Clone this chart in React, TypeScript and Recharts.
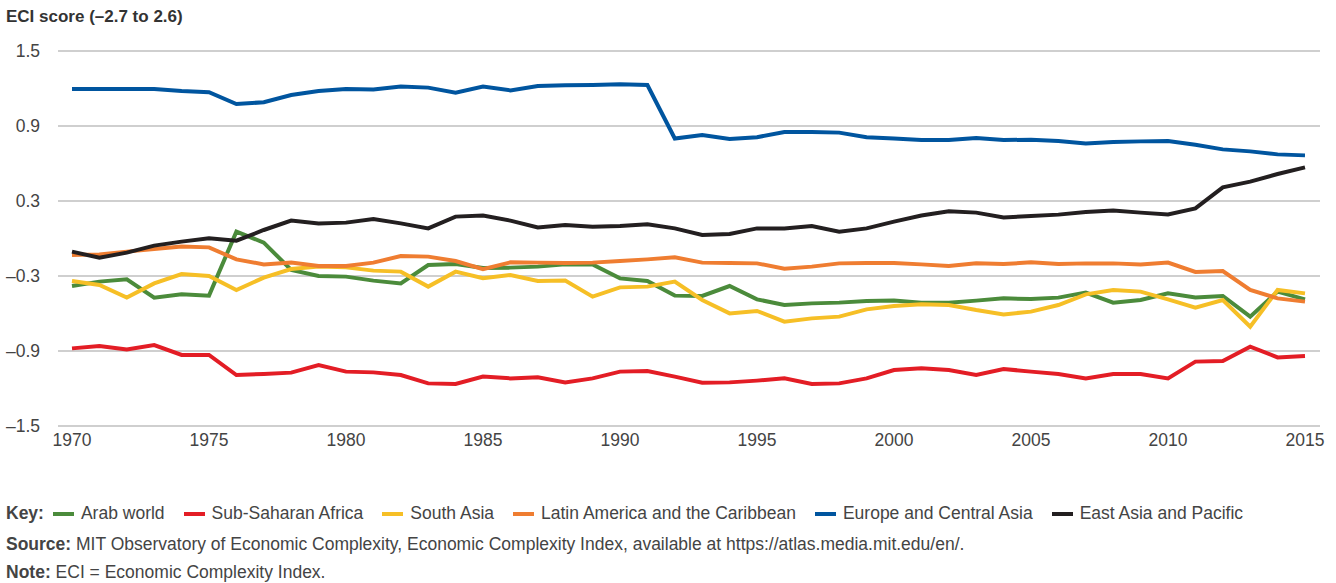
import { LineChart, Line, XAxis, YAxis, CartesianGrid } from "recharts";

const years = [
  1970, 1971, 1972, 1973, 1974, 1975, 1976, 1977, 1978, 1979,
  1980, 1981, 1982, 1983, 1984, 1985, 1986, 1987, 1988, 1989,
  1990, 1991, 1992, 1993, 1994, 1995, 1996, 1997, 1998, 1999,
  2000, 2001, 2002, 2003, 2004, 2005, 2006, 2007, 2008, 2009,
  2010, 2011, 2012, 2013, 2014, 2015,
];

const arabWorld = [
  -0.38, -0.345, -0.327, -0.473, -0.447, -0.457, 0.055, -0.033, -0.252, -0.3,
  -0.305, -0.337, -0.359, -0.212, -0.205, -0.235, -0.233, -0.225, -0.207, -0.207,
  -0.319, -0.34, -0.457, -0.46, -0.38, -0.487, -0.532, -0.519, -0.513, -0.5,
  -0.497, -0.513, -0.513, -0.497, -0.479, -0.484, -0.473, -0.433, -0.513, -0.492,
  -0.439, -0.471, -0.46, -0.625, -0.425, -0.487,
];

const subSaharanAfrica = [
  -0.879, -0.86, -0.887, -0.852, -0.932, -0.932, -1.092, -1.084, -1.073, -1.012,
  -1.065, -1.071, -1.092, -1.159, -1.164, -1.105, -1.119, -1.111, -1.151, -1.119,
  -1.065, -1.06, -1.105, -1.153, -1.151, -1.137, -1.119, -1.164, -1.159, -1.119,
  -1.052, -1.039, -1.052, -1.092, -1.044, -1.065, -1.084, -1.119, -1.084, -1.084,
  -1.119, -0.985, -0.98, -0.865, -0.951, -0.94,
];

const southAsia = [
  -0.34, -0.372, -0.473, -0.359, -0.284, -0.3, -0.412, -0.313, -0.244, -0.225,
  -0.231, -0.257, -0.265, -0.385, -0.265, -0.318, -0.292, -0.34, -0.337, -0.465,
  -0.391, -0.385, -0.345, -0.492, -0.599, -0.58, -0.665, -0.639, -0.625, -0.567,
  -0.54, -0.527, -0.532, -0.572, -0.607, -0.585, -0.532, -0.447, -0.412, -0.425,
  -0.487, -0.553, -0.492, -0.705, -0.412, -0.439,
];

const latinAmerica = [
  -0.132, -0.127, -0.105, -0.084, -0.065, -0.071, -0.167, -0.207, -0.193, -0.22,
  -0.22, -0.193, -0.14, -0.145, -0.18, -0.246, -0.191, -0.193, -0.196, -0.193,
  -0.18, -0.167, -0.151, -0.193, -0.196, -0.199, -0.241, -0.225, -0.199, -0.196,
  -0.196, -0.207, -0.22, -0.199, -0.204, -0.191, -0.204, -0.199, -0.199, -0.207,
  -0.193, -0.268, -0.26, -0.412, -0.479, -0.505,
];

const europeCentralAsia = [
  1.196, 1.196, 1.196, 1.196, 1.18, 1.17, 1.076, 1.09, 1.148, 1.18,
  1.196, 1.193, 1.215, 1.207, 1.167, 1.215, 1.185, 1.22, 1.226, 1.228,
  1.233, 1.228, 0.8, 0.828, 0.796, 0.81, 0.852, 0.852, 0.847, 0.81,
  0.8, 0.788, 0.788, 0.804, 0.788, 0.79, 0.78, 0.761, 0.772, 0.777,
  0.78, 0.75, 0.713, 0.697, 0.673, 0.665,
];

const eastAsiaPacific = [
  -0.105, -0.153, -0.113, -0.057, -0.025, 0.001, -0.017, 0.068, 0.143, 0.121,
  0.127, 0.156, 0.121, 0.081, 0.175, 0.183, 0.143, 0.089, 0.108, 0.095,
  0.1, 0.113, 0.081, 0.028, 0.036, 0.081, 0.081, 0.1, 0.055, 0.081,
  0.135, 0.184, 0.217, 0.207, 0.169, 0.18, 0.191, 0.212, 0.223, 0.207,
  0.193, 0.241, 0.409, 0.455, 0.516, 0.569,
];

const yTicks = [-1.5, -0.9, -0.3, 0.3, 0.9, 1.5];
const xTicks = [1970, 1975, 1980, 1985, 1990, 1995, 2000, 2005, 2010, 2015];

const series = [
  { key: "arab", name: "Arab world", color: "#4b8b3b", values: arabWorld },
  { key: "ssa", name: "Sub-Saharan Africa", color: "#e31d25", values: subSaharanAfrica },
  { key: "sasia", name: "South Asia", color: "#f6bf26", values: southAsia },
  { key: "latam", name: "Latin America and the Caribbean", color: "#ef7d31", values: latinAmerica },
  { key: "eca", name: "Europe and Central Asia", color: "#00559f", values: europeCentralAsia },
  { key: "eap", name: "East Asia and Pacific", color: "#231f20", values: eastAsiaPacific },
];

const data = years.map((year, i) => {
  const row: { [k: string]: number } = { year };
  series.forEach(s => { row[s.key] = s.values[i]; });
  return row;
});

const font = "'Liberation Sans', Arial, sans-serif";
const textColor = "#444";

const fmt = (v: number) => (v < 0 ? "\u2013" + Math.abs(v).toFixed(1) : v.toFixed(1));

export default function App() {
  return (
    <div style={{ position: "absolute", left: 0, top: 0, width: 1336, height: 583, background: "#fff", fontFamily: font, color: textColor }}>
      <div style={{ position: "absolute", left: 6, top: 7, fontSize: 17, fontWeight: 700, color: "#333" }}>
        ECI score (–2.7 to 2.6)
      </div>
      <LineChart width={1336} height={460} data={data} margin={{ top: 51, right: 16, bottom: 4, left: 0 }}>
        <CartesianGrid vertical={false} stroke="#a0a0a0" strokeWidth={1.2} />
        <XAxis
          dataKey="year" type="number" domain={[1970, 2015]} ticks={xTicks}
          padding={{ left: 14, right: 15 }} axisLine={false} tickLine={false}
          tickSize={0} tickMargin={8} height={30} fontSize={17.5} fontFamily={font}
          tick={{ fill: textColor }}
        />
        <YAxis
          type="number" domain={[-1.5, 1.5]} ticks={yTicks} width={58}
          axisLine={false} tickLine={false} tickSize={0} tickMargin={18}
          tickFormatter={fmt} fontSize={17.5} fontFamily={font}
          tick={{ fill: textColor }}
        />
        {series.map(s => (
          <Line
            key={s.key} dataKey={s.key} type="linear" stroke={s.color}
            strokeWidth={4} dot={false} isAnimationActive={false}
          />
        ))}
      </LineChart>
      <div style={{ position: "absolute", left: 6, top: 503, fontSize: 17.5, display: "flex", alignItems: "center", whiteSpace: "nowrap" }}>
        <span style={{ fontWeight: 700, marginRight: 9 }}>Key:</span>
        {series.map(s => (
          <span key={s.key} style={{ display: "inline-flex", alignItems: "center", marginRight: 19 }}>
            <span style={{ display: "inline-block", width: 21, height: 4, background: s.color, marginRight: 7 }} />
            {s.name}
          </span>
        ))}
      </div>
      <div style={{ position: "absolute", left: 6, top: 534, fontSize: 17.5, whiteSpace: "nowrap" }}>
        <b>Source:</b> MIT Observatory of Economic Complexity, Economic Complexity Index, available at https://atlas.media.mit.edu/en/.
      </div>
      <div style={{ position: "absolute", left: 6, top: 562, fontSize: 17.5, whiteSpace: "nowrap" }}>
        <b>Note:</b> ECI = Economic Complexity Index.
      </div>
    </div>
  );
}
